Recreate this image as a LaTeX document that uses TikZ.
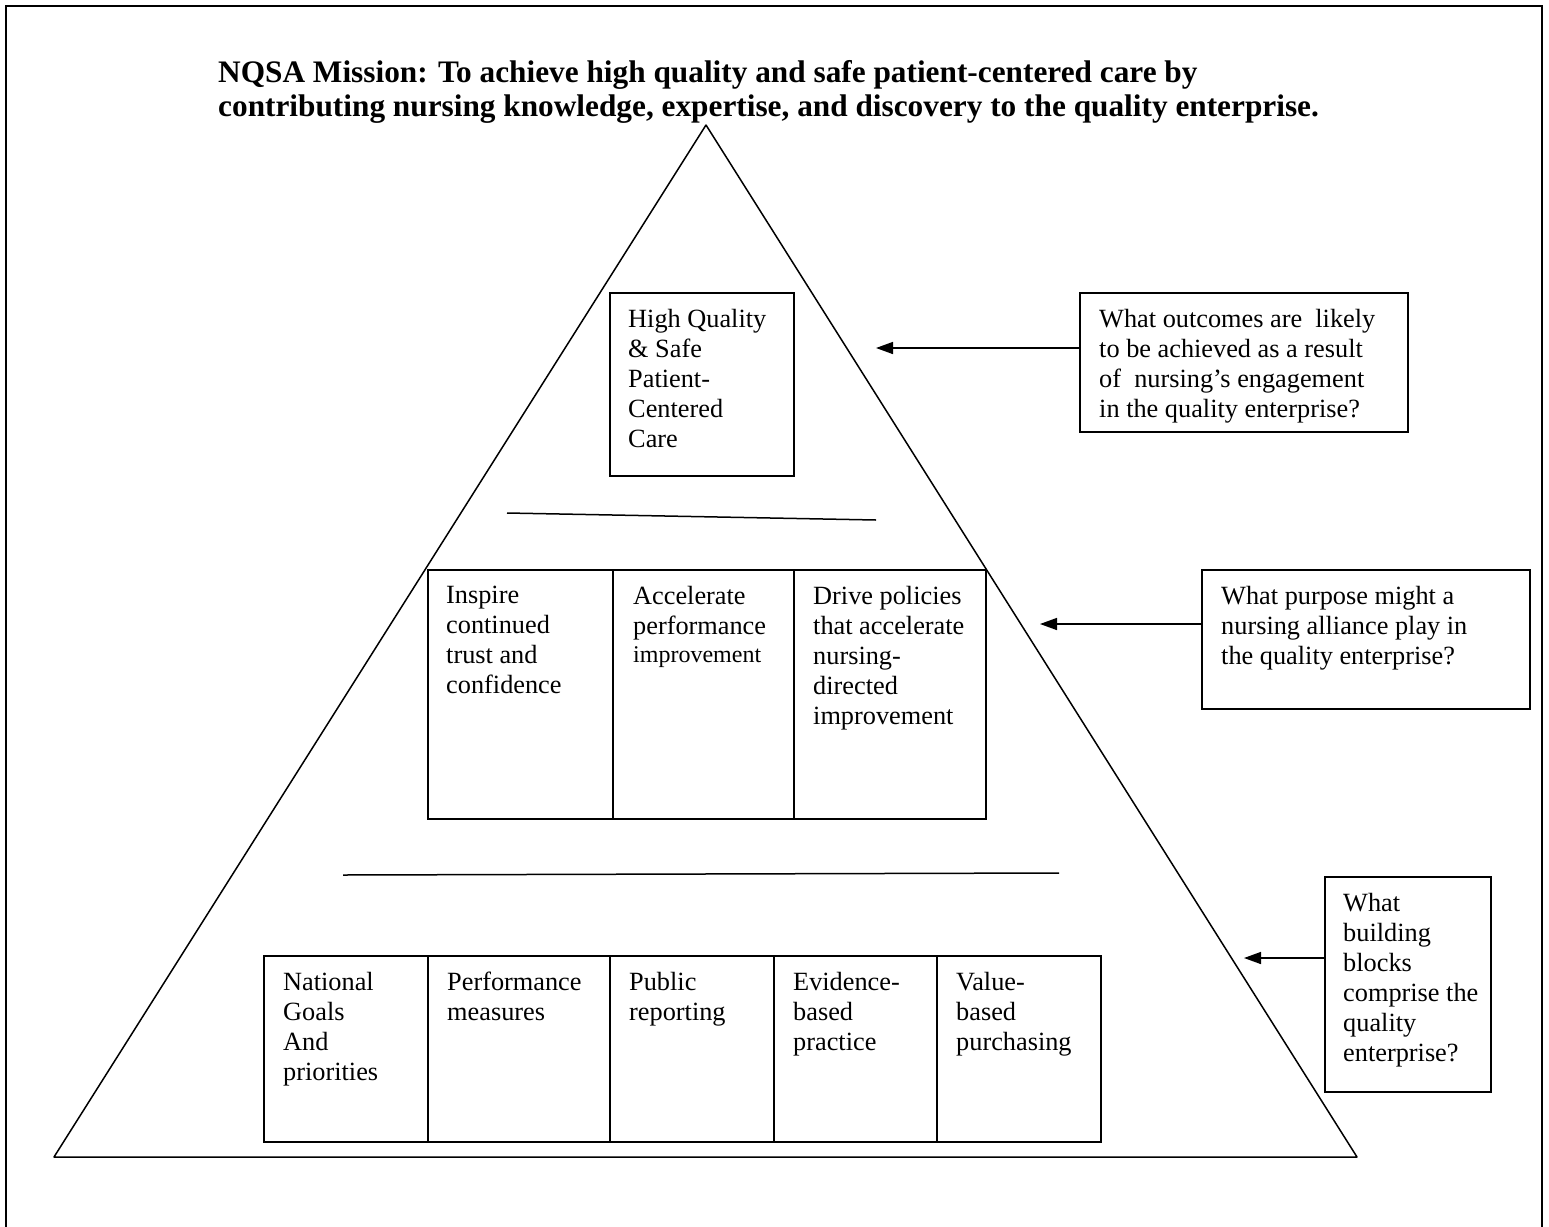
\documentclass[tikz,border=0pt]{standalone}
\usepackage{fontspec}
\setmainfont{Liberation Serif}
\usetikzlibrary{arrows.meta}
\begin{document}
\begin{tikzpicture}[x=1pt,y=-1pt,
  box/.style={draw, line width=1.5pt, inner sep=0pt, anchor=north west},
  txt/.style={anchor=north west, inner sep=0pt, align=left, font=\fontsize{26.3}{30}\selectfont},
  arr/.style={line width=1.5pt, -{Triangle[length=17pt,width=12pt]}},
  ln/.style={line width=1.5pt}]
\useasboundingbox (0,0) rectangle (1549,1226);
\draw[line width=2.5pt] (6,1260) -- (6,6) -- (1542,6) -- (1542,1260);
% title
\node[anchor=north west, inner sep=0pt, align=left, font=\fontsize{31.3}{34}\selectfont\bfseries] (title) at (218,60)
  {NQSA Mission: To achieve high quality and safe patient-centered care by\\
   contributing nursing knowledge, expertise, and discovery to the quality enterprise.};
% pyramid
\coordinate (apex) at (706,125);
\coordinate (bl) at (54,1157);
\coordinate (br) at (1357,1157);
\draw[ln, line join=round] (apex) -- (br) -- (bl) -- cycle;
% top box
\node[box, minimum width=184pt, minimum height=183pt] (top) at (609,292) {};
\node[txt] (toptxt) at ([shift={(19,17)}]top.north west) {High Quality\\\& Safe\\Patient-\\Centered\\Care};
% divider lines
\coordinate (d1a) at (507,513); \coordinate (d1b) at (876,520);
\draw[ln] (d1a) -- (d1b);
\coordinate (d2a) at (343,875); \coordinate (d2b) at (1059,873);
\draw[ln] (d2a) -- (d2b);
% middle boxes
\node[box, minimum width=185pt, minimum height=249pt] (m1) at (427,569) {};
\node[box, minimum width=181pt, minimum height=249pt] (m2) at (612,569) {};
\node[box, minimum width=192pt, minimum height=249pt] (m3) at (793,569) {};
\node[txt] (m1t) at ([shift={(19,17)}]m1.north west) {Inspire\\continued\\trust and\\confidence};
\node[txt] (m2t) at ([shift={(21,17)}]m2.north west) {Accelerate\\performance\\[-2pt]{\fontsize{24}{28}\selectfont improvement}};
\node[txt] (m3t) at ([shift={(20,17)}]m3.north west) {Drive policies\\that accelerate\\nursing-\\directed\\improvement};
% bottom boxes
\node[box, minimum width=164pt, minimum height=186pt] (b1) at (263,955) {};
\node[box, minimum width=182pt, minimum height=186pt] (b2) at (427,955) {};
\node[box, minimum width=164pt, minimum height=186pt] (b3) at (609,955) {};
\node[box, minimum width=163pt, minimum height=186pt] (b4) at (773,955) {};
\node[box, minimum width=164pt, minimum height=186pt] (b5) at (936,955) {};
\node[txt] (b1t) at ([shift={(20,17)}]b1.north west) {National\\Goals\\And\\priorities};
\node[txt] (b2t) at ([shift={(20,17)}]b2.north west) {Performance\\measures};
\node[txt] (b3t) at ([shift={(20,17)}]b3.north west) {Public\\reporting};
\node[txt] (b4t) at ([shift={(20,17)}]b4.north west) {Evidence-\\based\\practice};
\node[txt] (b5t) at ([shift={(20,17)}]b5.north west) {Value-\\based\\purchasing};
% question boxes
\node[box, minimum width=328pt, minimum height=139pt] (q1) at (1079,292) {};
\node[txt] (q1t) at ([shift={(20,17)}]q1.north west) {What outcomes are\ \ likely\\to be achieved as a result\\of\ \ nursing’s engagement\\in the quality enterprise?};
\node[box, minimum width=328pt, minimum height=139pt] (q2) at (1201,569) {};
\node[txt] (q2t) at ([shift={(20,17)}]q2.north west) {What purpose might a\\nursing alliance play in\\the quality enterprise?};
\node[box, minimum width=166pt, minimum height=215pt] (q3) at (1324,876) {};
\node[txt] (q3t) at ([shift={(19,17)}]q3.north west) {What\\building\\blocks\\comprise the\\quality\\enterprise?};
% arrows
\coordinate (t1) at (876,348);
\coordinate (t2) at (1040,624);
\coordinate (t3) at (1244,958);
\draw[arr] (t1 -| q1.west) -- (t1);
\draw[arr] (t2 -| q2.west) -- (t2);
\draw[arr] (t3 -| q3.west) -- (t3);
\end{tikzpicture}
\end{document}
